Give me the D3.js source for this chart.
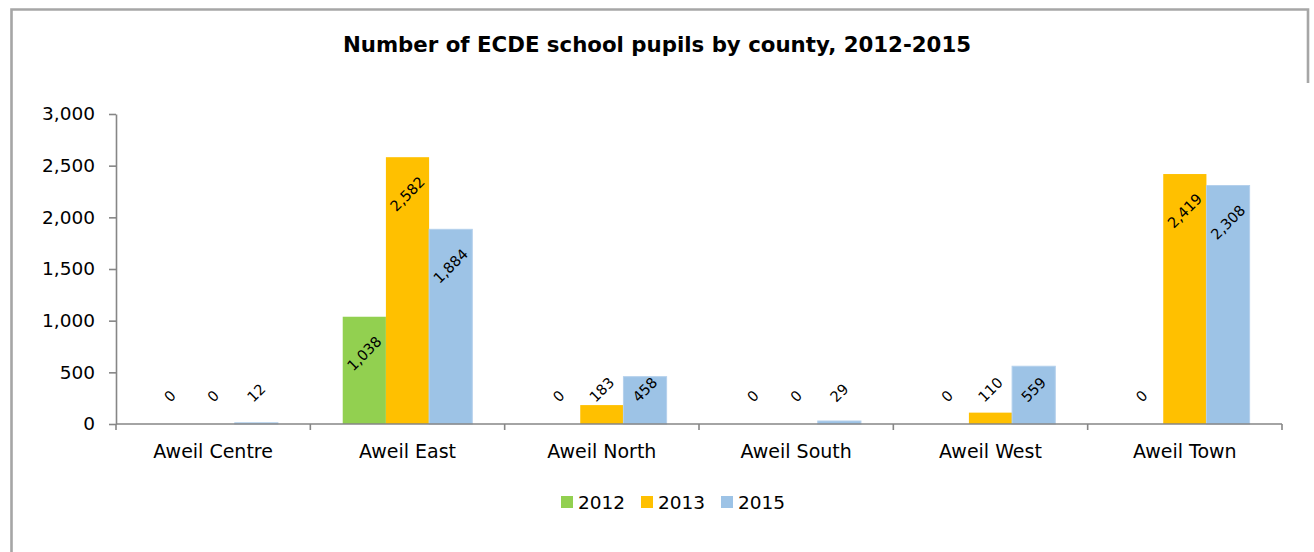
<!DOCTYPE html>
<html>
<head>
<meta charset="utf-8">
<script src="https://cdn.jsdelivr.net/npm/d3@7"></script>
<style>
  html, body { margin: 0; padding: 0; background: #fff; }
  svg { display: block; }
</style>
</head>
<body>
<svg id="chart" width="1314" height="552"></svg>
<script>
// Pupils enrolled in ECDE schools, per county and year
const counties = ["Aweil Centre", "Aweil East", "Aweil North", "Aweil South", "Aweil West", "Aweil Town"];
const years = ["2012", "2013", "2015"];
const pupils2012 = [0, 1038, 0, 0, 0, 0];
const pupils2013 = [0, 2582, 183, 0, 110, 2419];
const pupils2015 = [12, 1884, 458, 29, 559, 2308];
const yTicks = [0, 500, 1000, 1500, 2000, 2500, 3000];
const seriesColors = ["#92d050", "#ffc000", "#9dc3e6"];

const seriesValues = [pupils2012, pupils2013, pupils2015];
const FONT = "'DejaVu Sans', Verdana, sans-serif";

const svg = d3.select("#chart");
const margin = { left: 116, right: 32, top: 114, bottom: 128 };
const W = 1314, H = 552;

// Frame around the chart area
svg.append("path")
  .attr("d", "M11.5,552 L11.5,9.5 L1308,9.5 L1308,83")
  .attr("fill", "none")
  .attr("stroke", "#a6a6a6")
  .attr("stroke-width", 2.6);

svg.append("text")
  .attr("x", 657).attr("y", 44)
  .attr("text-anchor", "middle")
  .attr("dominant-baseline", "central")
  .attr("font-family", FONT)
  .attr("font-weight", "bold")
  .attr("font-size", 21.3)
  .attr("fill", "#000")
  .text("Number of ECDE school pupils by county, 2012-2015");

const x0 = d3.scaleBand()
  .domain(counties)
  .range([margin.left, W - margin.right])
  .paddingInner(0).paddingOuter(0);

// Gap between clusters is 150% of one bar width
const x1 = d3.scaleBand()
  .domain(years)
  .range([0, x0.bandwidth()])
  .paddingOuter(0.75).paddingInner(0);

const y = d3.scaleLinear()
  .domain([0, 3000])
  .range([H - margin.bottom, margin.top]);

const fmt = d3.format(",");

// Bars
const groups = svg.append("g").selectAll("g")
  .data(counties)
  .join("g")
  .attr("transform", d => `translate(${x0(d)},0)`);

groups.selectAll("rect")
  .data((c, i) => years.map((yr, s) => ({ county: c, year: yr, s, value: seriesValues[s][i] })))
  .join("rect")
  .attr("x", d => x1(d.year))
  .attr("width", x1.bandwidth())
  .attr("y", d => y(d.value))
  .attr("height", d => y(0) - y(d.value))
  .attr("fill", d => seriesColors[d.s])
  .attr("stroke", d => d.s === 2 ? "#b4d0ec" : "none")
  .attr("stroke-width", 1);

// Y axis
const yAxis = svg.append("g")
  .attr("transform", `translate(${margin.left},0)`)
  .call(d3.axisLeft(y).tickValues(yTicks).tickFormat(fmt).tickSizeOuter(0).tickSizeInner(7).tickPadding(14));
yAxis.select(".domain").attr("stroke", "#868686").attr("stroke-width", 1.6);
yAxis.selectAll(".tick line").attr("stroke", "#868686").attr("stroke-width", 1.6);
yAxis.selectAll(".tick text")
  .attr("font-family", FONT).attr("font-size", 18.5).attr("fill", "#000");

// X axis with ticks at cluster boundaries
const xAxisG = svg.append("g")
  .attr("transform", `translate(0,${y(0)})`);
xAxisG.append("line")
  .attr("x1", margin.left).attr("x2", W - margin.right)
  .attr("stroke", "#868686").attr("stroke-width", 1.6);
const boundaries = counties.map(c => x0(c)).concat([x0(counties[counties.length - 1]) + x0.bandwidth()]);
xAxisG.selectAll("line.tk")
  .data(boundaries)
  .join("line")
  .attr("class", "tk")
  .attr("x1", d => d).attr("x2", d => d)
  .attr("y1", 0).attr("y2", 6)
  .attr("stroke", "#868686").attr("stroke-width", 1.6);
xAxisG.selectAll("text")
  .data(counties)
  .join("text")
  .attr("x", d => x0(d) + x0.bandwidth() / 2)
  .attr("y", 27)
  .attr("text-anchor", "middle")
  .attr("dominant-baseline", "central")
  .attr("font-family", FONT).attr("font-size", 19).attr("fill", "#000")
  .text(d => d);

// Rotated value labels
const baseY = y(0);
groups.each(function (c, i) {
  const g = d3.select(this);
  years.forEach((yr, s) => {
    const v = seriesValues[s][i];
    const cx = x1(yr) + x1.bandwidth() / 2;
    const t = g.append("text")
      .attr("text-anchor", "middle")
      .attr("dominant-baseline", "central")
      .attr("font-family", FONT).attr("font-size", 14.5).attr("fill", "#000")
      .text(fmt(v));
    const w = t.node().getComputedTextLength();
    const extent = (w + 10) * Math.SQRT1_2;
    const bottom = Math.min(baseY - 21, y(v) + 55);
    const cy = bottom - extent / 2;
    t.attr("transform", `translate(${cx},${cy}) rotate(-45)`);
  });
});

// Legend
const legendItems = years.map((yr, s) => ({ yr, s }));
const legend = svg.append("g").attr("transform", "translate(561,502)");
let lx = 0;
legendItems.forEach(d => {
  const item = legend.append("g").attr("transform", `translate(${lx},0)`);
  item.append("rect").attr("x", 0).attr("y", -6).attr("width", 12).attr("height", 12)
    .attr("fill", seriesColors[d.s]);
  item.append("text").attr("x", 17).attr("y", 0)
    .attr("dominant-baseline", "central")
    .attr("font-family", FONT).attr("font-size", 18.5).attr("fill", "#000")
    .text(d.yr);
  lx += 80;
});
</script>
</body>
</html>
